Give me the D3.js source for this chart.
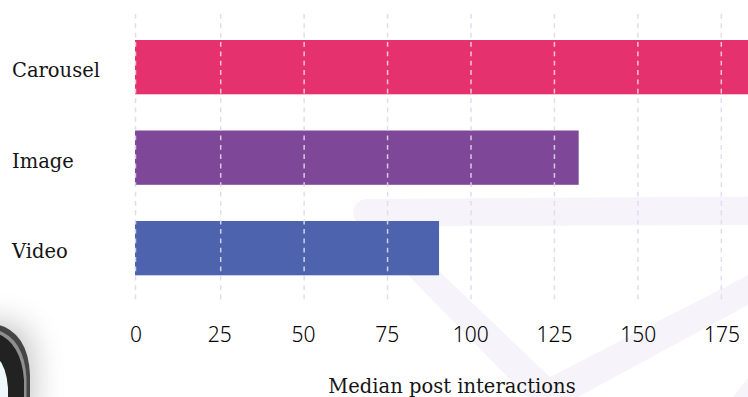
<!DOCTYPE html>
<html>
<head>
<meta charset="utf-8">
<script src="https://cdn.jsdelivr.net/npm/d3@7/dist/d3.min.js"></script>
<style>
html,body{margin:0;padding:0;background:#fff;overflow:hidden}
svg{display:block}
.cat{font-family:"DejaVu Serif",serif;font-size:19.5px;fill:#141414}
.tick-label{font-family:"Noto Sans",sans-serif;font-size:21px;font-weight:300;fill:#000}
</style>
</head>
<body>
<svg id="chart" width="748" height="397"></svg>
<script>
const categories = ["Carousel", "Image", "Video"];
const interactions = [220, 132.5, 90.8];
const barColors = ["#e5326e", "#7e4798", "#4e63ad"];
const tickValues = [0, 25, 50, 75, 100, 125, 150, 175];
const axisTitle = "Median post interactions";

const svg = d3.select("#chart");
const x = d3.scaleLinear().domain([0, 175]).range([135.5, 721.5]);
const gridX = d3.scaleLinear().domain([0, 25, 175]).range([135.5, 220.7, 721.3]);
const y = d3.scaleBand().domain(categories).range([21.9, 293.4]).paddingInner(0.4).paddingOuter(0.2);

// Faint check mark behind the plot
const deco = svg.append("g").attr("fill", "#f6f4fa");
deco.append("path").attr("d", "M367 199L760 196.5V225L367 226.5A13.7 13.7 0 0 1 367 199Z");
deco.append("path").attr("d", "M408 275L440 272L550 377L748 275V305L578 397H527Z");
deco.append("path").attr("d", "M733 397L748 378V397Z");

// Corner of a phone frame with its soft shadow
const defs = svg.append("defs");
const blur = defs.append("filter").attr("id", "shadow").attr("x", "-50%").attr("y", "-50%").attr("width", "200%").attr("height", "200%");
blur.append("feGaussianBlur").attr("stdDeviation", 15);
const soft = defs.append("filter").attr("id", "soft");
soft.append("feGaussianBlur").attr("stdDeviation", 0.7);
svg.append("path").attr("d", "M-40 322H5Q34 325 34 365V420H-40Z").attr("fill", "#777").attr("opacity", .42).attr("filter", "url(#shadow)");
const phone = svg.append("g").attr("filter", "url(#soft)");
phone.append("path").attr("d", "M-10 323Q28 328 30 375V400H-10Z").attr("fill", "#454545");
phone.append("path").attr("d", "M-10 328Q24 334 26.5 378V400H-10Z").attr("fill", "#8f8f8f");
phone.append("path").attr("d", "M-10 331Q21 338 24 380V400H-10Z").attr("fill", "#202020");
phone.append("path").attr("d", "M-10 352Q6 360 8 388V400H-10Z").attr("fill", "#eef8fa");

// Grid sits under the bars in lavender
const dash = "4.8 4.55";
const gridLines = parent => parent.selectAll("line").data(tickValues).join("line")
  .attr("x1", d => gridX(d)).attr("x2", d => gridX(d)).attr("y1", 14).attr("y2", 302)
  .attr("stroke-width", 1.5).attr("stroke-dasharray", dash);
svg.append("g").call(gridLines).attr("stroke", "#e0ddf0");

// Bars
const barY = d => y(d);
const barW = (d, i) => x(interactions[i]) - x(0);
svg.append("g").selectAll("rect").data(categories).join("rect")
  .attr("x", x(0) - 0.5).attr("y", barY).attr("height", y.bandwidth())
  .attr("width", barW).attr("fill", (d, i) => barColors[i]);

// The same dashes reappear lighter wherever they cross a bar
defs.append("clipPath").attr("id", "bars").selectAll("rect").data(categories).join("rect")
  .attr("x", x(0) - 0.5).attr("y", barY).attr("height", y.bandwidth()).attr("width", barW);
svg.append("g").attr("clip-path", "url(#bars)").call(gridLines).attr("stroke", "#fff").attr("stroke-opacity", 0.72);

// Axis built with d3 and restyled
const axis = svg.append("g").attr("transform", "translate(0,334)")
  .call(d3.axisBottom(x).tickValues(tickValues).tickSize(0).tickPadding(0).tickFormat(d3.format("d")));
axis.select(".domain").remove();
axis.selectAll("text").attr("class", "tick-label").attr("dy", "0.36em").attr("y", 0);
axis.attr("font-size", null).attr("font-family", null);

// Category labels
svg.append("g").selectAll("text").data(categories).join("text")
  .attr("class", "cat").attr("x", 12).attr("y", d => y(d) + y.bandwidth() / 2).attr("dy", "0.52em").text(d => d);

svg.append("text").attr("class", "cat").attr("x", 452).attr("y", 393).attr("text-anchor", "middle").text(axisTitle);
</script>
</body>
</html>
